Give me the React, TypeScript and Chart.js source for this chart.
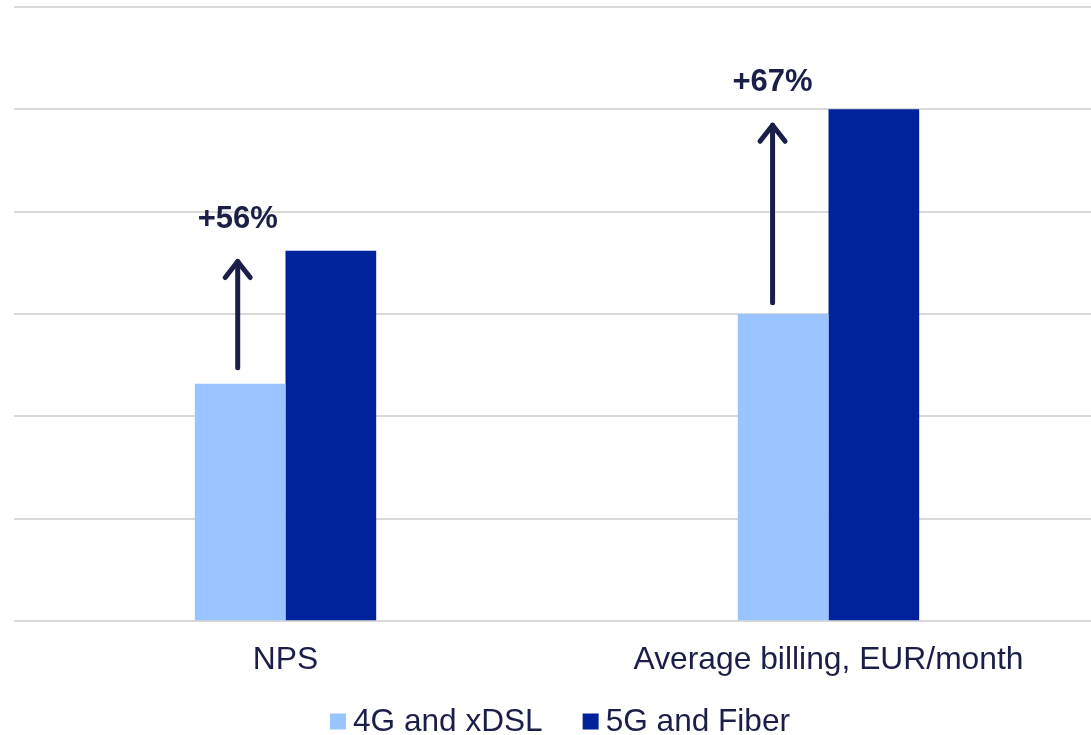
import React, { useEffect, useRef } from "react";
import { Chart, registerables } from "chart.js";

Chart.register(...registerables);

const categories = ["NPS", "Average billing, EUR/month"];
const series4G = [2.32, 3.0];
const series5G = [3.62, 5.0];
const seriesNames = ["4G and xDSL", "5G and Fiber"];
const growthLabels = ["+56%", "+67%"];
const arrowStart = [2.476, 3.11];
const arrowEnd = [3.514, 4.845];
const labelBaseline = [3.837, 5.18];
const arrowOffset = [-0.088, -0.103];
const yTicks = [0, 1, 2, 3, 4, 5, 6];

const LIGHT = "#99C4FF";
const DARK = "#00239C";
const TEXT = "#1B1F47";
const FONT = "'Liberation Sans', Arial, sans-serif";

const annotationPlugin = {
  id: "growthArrows",
  afterDatasetsDraw(chart: any) {
    const { ctx, scales } = chart;
    const x = scales.x;
    const y = scales.y;
    ctx.save();
    for (let i = 0; i < categories.length; i++) {
      const px = x.getPixelForValue(i + arrowOffset[i]);
      const y0 = y.getPixelForValue(arrowStart[i]);
      const y1 = y.getPixelForValue(arrowEnd[i]);
      ctx.strokeStyle = TEXT;
      ctx.lineWidth = 5;
      ctx.lineCap = "round";
      ctx.lineJoin = "round";
      ctx.beginPath();
      ctx.moveTo(px, y0);
      ctx.lineTo(px, y1);
      ctx.stroke();
      ctx.beginPath();
      ctx.moveTo(px - 12.5, y1 + 16);
      ctx.lineTo(px, y1);
      ctx.lineTo(px + 12.5, y1 + 16);
      ctx.stroke();
      ctx.fillStyle = TEXT;
      ctx.font = `bold 31px ${FONT}`;
      ctx.textAlign = "center";
      ctx.textBaseline = "alphabetic";
      ctx.fillText(growthLabels[i], px, y.getPixelForValue(labelBaseline[i]));
    }
    ctx.restore();
  },
};

const legendPlugin = {
  id: "customLegend",
  afterDraw(chart: any) {
    const { ctx, chartArea } = chart;
    const colors = [LIGHT, DARK];
    ctx.save();
    ctx.font = `31.6px ${FONT}`;
    const box = 16;
    const gap = 7;
    const itemGap = 40;
    const widths = seriesNames.map((n) => box + gap + ctx.measureText(n).width);
    const total = widths.reduce((a, b) => a + b, 0) + itemGap * (seriesNames.length - 1);
    const center = (chartArea.left + chartArea.right) / 2 + 3;
    let cx = center - total / 2;
    const cy = 721.5;
    for (let i = 0; i < seriesNames.length; i++) {
      ctx.fillStyle = colors[i];
      ctx.fillRect(cx, cy - box / 2, box, box);
      ctx.fillStyle = TEXT;
      ctx.textAlign = "left";
      ctx.textBaseline = "alphabetic";
      ctx.fillText(seriesNames[i], cx + box + gap, 730.7);
      cx += widths[i] + itemGap;
    }
    ctx.restore();
  },
};

export default function App() {
  const ref = useRef<HTMLCanvasElement>(null);
  useEffect(() => {
    if (!ref.current) return;
    const chart = new Chart(ref.current, {
      type: "bar",
      data: {
        labels: categories,
        datasets: [
          { label: seriesNames[0], data: series4G, backgroundColor: LIGHT, borderWidth: 0 },
          { label: seriesNames[1], data: series5G, backgroundColor: DARK, borderWidth: 0 },
        ],
      },
      options: {
        animation: false,
        responsive: false,
        layout: { padding: { left: 14, right: 0, top: 7, bottom: 43.6 } },
        datasets: { bar: { categoryPercentage: 0.334, barPercentage: 1 } },
        plugins: { legend: { display: false }, tooltip: { enabled: false } },
        scales: {
          x: {
            grid: { display: false },
            border: { display: false },
            ticks: { color: TEXT, font: { family: FONT, size: 31.8 }, padding: 12 },
          },
          y: {
            min: 0,
            max: 6,
            afterBuildTicks: (axis: any) => {
              axis.ticks = yTicks.map((v) => ({ value: v }));
            },
            grid: { color: "#D9D9D9", lineWidth: 2, drawTicks: false },
            border: { display: false },
            ticks: { display: false },
          },
        },
      },
      plugins: [annotationPlugin, legendPlugin],
    });
    return () => chart.destroy();
  }, []);
  return (
    <div style={{ position: "fixed", left: 0, top: 0, width: 1091, height: 735, overflow: "hidden", background: "#fff" }}>
      <canvas ref={ref} width={1100} height={735} style={{ display: "block" }} />
    </div>
  );
}
